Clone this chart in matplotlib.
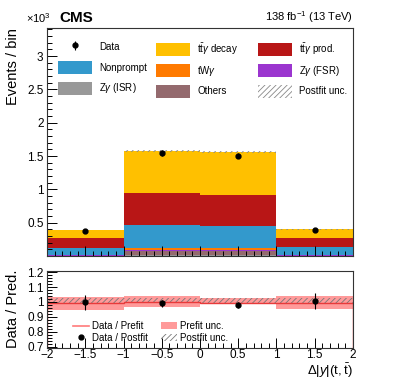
import matplotlib
matplotlib.use("Agg")
import matplotlib.pyplot as plt
import numpy as np
from matplotlib.patches import Patch
from matplotlib.lines import Line2D
from matplotlib.ticker import MultipleLocator, FuncFormatter

plt.rcParams['font.family'] = ['Liberation Sans', 'DejaVu Sans']
plt.rcParams['mathtext.fontset'] = 'custom'
plt.rcParams['mathtext.rm'] = 'Liberation Sans'
plt.rcParams['mathtext.it'] = 'Liberation Sans:italic'
plt.rcParams['mathtext.bf'] = 'Liberation Sans:bold'
plt.rcParams['hatch.linewidth'] = 0.6

# binning in delta |y| (t, tbar)
edges = np.array([-2.0, -1.0, 0.0, 1.0, 2.0])

# stacked processes, events per bin (bottom -> top)
zg_isr = [2, 20, 20, 2]
others = [4, 50, 50, 4]
zg_fsr = [2, 20, 20, 2]
twg = [12, 35, 35, 12]
nonprompt = [105, 340, 325, 115]
ttg_prod = [140, 475, 470, 130]
ttg_decay = [125, 635, 635, 135]

data = [380, 1545, 1505, 385]
postfit_unc = [0.012, 0.01, 0.01, 0.012]   # relative

# ratio panel
ratio_postfit = [0.997, 0.99, 0.98, 1.007]
ratio_postfit_err = [0.053, 0.022, 0.022, 0.055]
ratio_prefit = [0.99, 0.997, 0.993, 0.993]
prefit_lo = [0.948, 0.966, 0.984, 0.953]
prefit_hi = [1.036, 1.043, 1.029, 1.043]
postfit_lo = [0.993, 0.995, 0.993, 0.993]
postfit_hi = [1.027, 1.027, 1.025, 1.027]

L_TTD = r't$\mathregular{\bar{t}}\gamma$ decay'
L_TTP = r't$\mathregular{\bar{t}}\gamma$ prod.'
L_ISR = r'Z$\gamma$ (ISR)'
L_FSR = r'Z$\gamma$ (FSR)'
L_TWG = r'tW$\gamma$'

procs = [
    (zg_isr, L_ISR, '#999999'),
    (others, 'Others', '#946a6e'),
    (zg_fsr, L_FSR, '#9b35cf'),
    (twg, L_TWG, '#ff7a00'),
    (nonprompt, 'Nonprompt', '#3399cc'),
    (ttg_prod, L_TTP, '#b81616'),
    (ttg_decay, L_TTD, '#ffc000'),
]

fig = plt.figure(figsize=(3.93, 3.81), dpi=100)
ax = fig.add_axes([0.1196, 0.328, 0.7786, 0.5985])
rax = fig.add_axes([0.1196, 0.0866, 0.7786, 0.2027])

centers = 0.5 * (edges[1:] + edges[:-1])
cum = np.zeros(len(centers))
handles = {}
for vals, label, col in procs:
    v = np.array(vals, dtype=float) / 1000.
    ax.stairs(cum + v, edges, baseline=cum, fill=True, color=col, lw=0)
    cum = cum + v
    handles[label] = Patch(facecolor=col, edgecolor='none')

unc = cum * np.array(postfit_unc)
ax.stairs(cum + unc, edges, baseline=cum - unc, fill=True, facecolor='none',
          edgecolor='#888888', hatch='//////', lw=0)
d = np.array(data, dtype=float)
eb = ax.errorbar(centers, d / 1000., yerr=np.sqrt(d) / 1000., fmt='o', ms=3.5,
                 color='k', elinewidth=0.8, capsize=0)
hatch_h = Patch(facecolor='none', edgecolor='#888888', hatch='//////', lw=0)

# one legend per column so the columns sit where they do in the original
cols = [
    ([eb, handles['Nonprompt'], handles[L_ISR]], ['Data', 'Nonprompt', L_ISR], 0.036),
    ([handles[L_TTD], handles[L_TWG], handles['Others']], [L_TTD, L_TWG, 'Others'], 0.356),
    ([handles[L_TTP], handles[L_FSR], hatch_h], [L_TTP, L_FSR, 'Postfit unc.'], 0.69),
]
legs = []
for hs, ls, x0 in cols:
    leg = ax.legend(hs, ls, loc='upper left', bbox_to_anchor=(x0, 0.945),
                    borderaxespad=0, borderpad=0, frameon=False, fontsize=7,
                    handlelength=3.5, handleheight=1.75, handletextpad=0.75,
                    labelspacing=0.72)
    legs.append(leg)
for leg in legs[:-1]:
    ax.add_artist(leg)

ax.set_xlim(-2, 2)
ax.set_ylim(0, 3.42)
ax.set_yticks([0.5, 1, 1.5, 2, 2.5, 3])
ax.yaxis.set_minor_locator(MultipleLocator(0.1))
ax.xaxis.set_major_locator(MultipleLocator(0.5))
ax.xaxis.set_minor_locator(MultipleLocator(0.1))
ax.set_xticklabels([])
ax.yaxis.set_major_formatter(FuncFormatter(lambda v, p: '%g' % v))
ax.text(0.012, 1.015, r'$\times10^{3}$', transform=ax.transAxes, ha='right',
        va='bottom', fontsize=8)
ax.text(0.04, 1.015, 'CMS', transform=ax.transAxes, ha='left', va='bottom',
        fontsize=11, fontweight='bold')
ax.text(1.0, 1.015, r'138 fb$^{-1}$ (13 TeV)', transform=ax.transAxes,
        ha='right', va='bottom', fontsize=8)

# ratio panel
rax.stairs(prefit_hi, edges, baseline=prefit_lo, fill=True, color='#ff9a9a', lw=0)
rax.stairs(postfit_hi, edges, baseline=postfit_lo, fill=True, facecolor='none',
           edgecolor='#777777', hatch='//////', lw=0)
rax.stairs(ratio_prefit, edges, color='#e83a3a', lw=1.0)
rax.errorbar(centers, ratio_postfit, yerr=ratio_postfit_err, fmt='o', ms=3.5,
             color='k', elinewidth=0.8, capsize=0)

rh = [Line2D([], [], color='#ff7a7a', lw=1.2),
      Line2D([], [], color='k', marker='o', ms=3.5, ls='none'),
      Patch(facecolor='#ff9a9a', edgecolor='none'),
      Patch(facecolor='none', edgecolor='#777777', hatch='//////', lw=0)]
rl = ['Data / Prefit', 'Data / Postfit', 'Prefit unc.', 'Postfit unc.']
rax.legend(rh, rl, ncol=2, loc='lower left', bbox_to_anchor=(0.085, 0.07),
           borderaxespad=0, borderpad=0, frameon=False, fontsize=7,
           handlelength=1.6, handletextpad=0.4, labelspacing=0.15,
           columnspacing=1.3)

rax.set_xlim(-2, 2)
rax.set_ylim(0.69, 1.21)
rax.set_yticks([0.7, 0.8, 0.9, 1.0, 1.1, 1.2])
rax.yaxis.set_minor_locator(MultipleLocator(0.02))
rax.xaxis.set_major_locator(MultipleLocator(0.5))
rax.xaxis.set_minor_locator(MultipleLocator(0.1))
rax.yaxis.set_major_formatter(FuncFormatter(lambda v, p: '%g' % round(v, 2)))
rax.xaxis.set_major_formatter(FuncFormatter(lambda v, p: ('%g' % v).replace('-', '\u2212')))

for a in (ax, rax):
    a.tick_params(which='both', direction='in', labelsize=8.5, width=0.7, pad=2.5)
    a.tick_params(which='major', length=7)
    a.tick_params(which='minor', length=3.5)
    for s in a.spines.values():
        s.set_linewidth(0.8)
        s.set_color('#333333')
rax.tick_params(axis='x', which='both', pad=1)

# axis titles placed by hand, as in the original layout
fig.text(0.032, 0.9265, 'Events / bin', rotation=90, ha='center', va='top',
         fontsize=10.5)
fig.text(0.032, 0.19, 'Data / Pred.', rotation=90, ha='center', va='center',
         fontsize=10.5)
fig.text(0.898, 0.002, r'$\Delta|y|(\mathregular{t},\mathregular{\bar{t}})$',
         ha='right', va='bottom', fontsize=9.5)

fig.savefig('out.png', dpi=100)
